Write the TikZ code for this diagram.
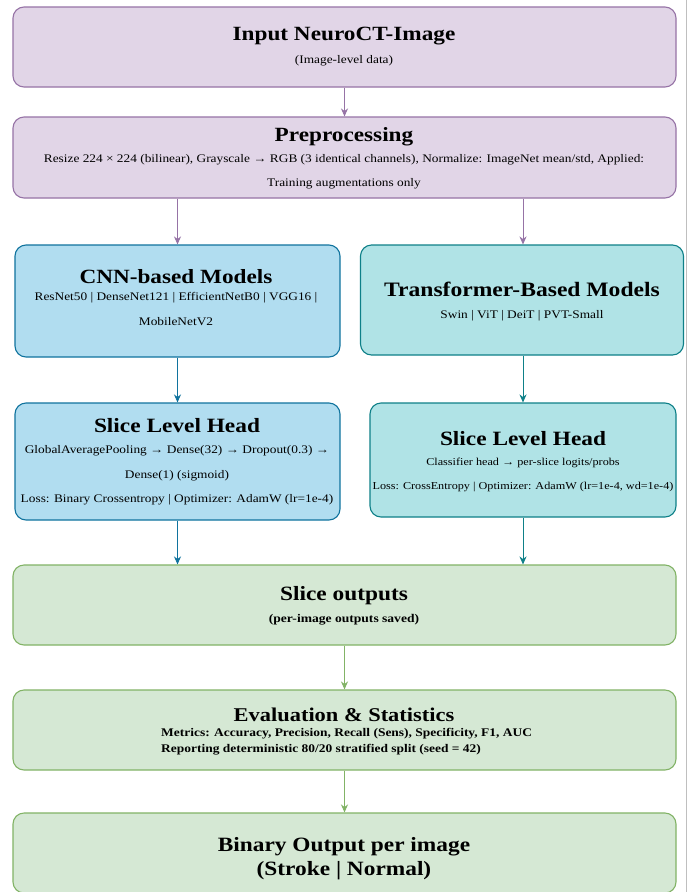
\documentclass[tikz,border=0pt]{standalone}
\usepackage{fontspec}
\setmainfont[FakeStretch=1.15]{Liberation Serif}
\usetikzlibrary{arrows.meta}
\definecolor{pfill}{HTML}{E1D5E7}\definecolor{pline}{HTML}{9673A6}
\definecolor{bfill}{HTML}{B1DDF0}\definecolor{bline}{HTML}{10739E}
\definecolor{tfill}{HTML}{B0E3E6}\definecolor{tline}{HTML}{0E8088}
\definecolor{gfill}{HTML}{D5E8D4}\definecolor{gline}{HTML}{82B366}
\tikzset{
  box/.style={draw, line width=1.1pt, rounded corners=11pt, inner sep=0pt},
  pbox/.style={box, fill=pfill, draw=pline},
  bbox/.style={box, fill=bfill, draw=bline},
  tbox/.style={box, fill=tfill, draw=tline},
  gbox/.style={box, fill=gfill, draw=gline},
  ttl/.style={font=\bfseries\fontsize{20.2}{24}\selectfont, inner sep=0pt},
  sttl/.style={font=\bfseries\fontsize{20.3}{24}\selectfont, inner sep=0pt},
  txt/.style={font=\fontsize{11.6}{13}\selectfont, inner sep=0pt},
  stxt/.style={font=\fontsize{10.6}{12}\selectfont, inner sep=0pt},
  btxt/.style={font=\bfseries\fontsize{11.8}{13}\selectfont, inner sep=0pt},
  etxt/.style={font=\bfseries\fontsize{11.7}{14}\selectfont, inner sep=0pt, anchor=west},
  conn/.style={-{Stealth[length=8pt,width=7pt]}, line width=0.9pt},
}
\begin{document}
\begin{tikzpicture}[x=1pt,y=-1pt]
\useasboundingbox (0,0) rectangle (690,892);
\fill[white] (0,0) rectangle (690,892);
\draw[gray!50, line width=0.6pt] (686,0) -- (686,892);
% boxes
\node[pbox, minimum width=663pt, minimum height=80pt] (inp) at (344.5,47) {};
\node[pbox, minimum width=663pt, minimum height=81pt] (pre) at (344.5,157.5) {};
\node[bbox, minimum width=325pt, minimum height=112pt] (cnn) at (177.5,301) {};
\node[tbox, minimum width=323pt, minimum height=110pt] (trf) at (522,300) {};
\node[bbox, minimum width=325pt, minimum height=117pt] (ch) at (177.5,461.5) {};
\node[tbox, minimum width=306pt, minimum height=114pt] (th) at (523,460) {};
\node[gbox, minimum width=663pt, minimum height=80pt] (so) at (344.5,605) {};
\node[gbox, minimum width=663pt, minimum height=80pt] (ev) at (344.5,730) {};
\node[gbox, minimum width=663pt, minimum height=80pt] (bo) at (344.5,853) {};
% texts
\node[ttl] (t1) at (344,36.5) {Input NeuroCT-Image};
\node[txt] (s1) at (344,61) {(Image-level data)};
\node[ttl] (t2) at (344,136.5) {Preprocessing};
\node[txt] (s2a) at (344,160) {Resize 224 × 224 (bilinear), Grayscale → RGB (3 identical channels), Normalize: ImageNet mean/std, Applied:};
\node[txt] (s2b) at (344,184) {Training augmentations only};
\node[ttl] (t3) at (176,277) {CNN-based Models};
\node[txt] (s3a) at (176,298) {ResNet50 | DenseNet121 | EfficientNetB0 | VGG16 |};
\node[txt] (s3b) at (176,322) {MobileNetV2};
\node[ttl, font=\bfseries\fontsize{20.5}{24}\selectfont] (t4) at (522,289.5) {Transformer-Based Models};
\node[txt] (s4) at (522,316) {Swin | ViT | DeiT | PVT-Small};
\node[sttl] (t5) at (177,426) {Slice Level Head};
\node[txt] (s5a) at (177,451) {GlobalAveragePooling → Dense(32) → Dropout(0.3) →};
\node[txt] (s5b) at (177,476) {Dense(1) (sigmoid)};
\node[txt] (s5c) at (177,500) {Loss: Binary Crossentropy | Optimizer: AdamW (lr=1e-4)};
\node[sttl] (t6) at (523,438.5) {Slice Level Head};
\node[stxt] (s6a) at (523,463) {Classifier head → per-slice logits/probs};
\node[stxt] (s6b) at (523,487) {Loss: CrossEntropy | Optimizer: AdamW (lr=1e-4, wd=1e-4)};
\node[sttl] (t7) at (344,595.5) {Slice outputs};
\node[btxt] (s7) at (344,620) {(per-image outputs saved)};
\node[sttl, font=\bfseries\fontsize{19.5}{24}\selectfont] (t8) at (344,715) {Evaluation \& Statistics};
\node[etxt] (s8a) at (161,733.5) {Metrics: Accuracy, Precision, Recall (Sens), Specificity, F1, AUC};
\node[etxt] (s8b) at (161,749.5) {Reporting deterministic 80/20 stratified split (seed = 42)};
\node[sttl] (t9) at (344,846.5) {Binary Output per image};
\node[sttl] (t9b) at (344,871) {(Stroke | Normal)};
% connectors
\draw[conn, draw=pline] (inp.south) -- (pre.north);
\draw[conn, draw=pline] (pre.south -| cnn.north) -- (cnn.north);
\draw[conn, draw=pline] (pre.south -| th.north) -- (trf.north -| th.north);
\draw[conn, draw=bline] (cnn.south) -- (ch.north);
\draw[conn, draw=tline] (trf.south -| th.north) -- (th.north);
\draw[conn, draw=bline] (ch.south) -- (so.north -| ch.south);
\draw[conn, draw=tline] (th.south) -- (so.north -| th.south);
\draw[conn, draw=gline] (so.south) -- (ev.north);
\draw[conn, draw=gline] (ev.south) -- (bo.north);
\end{tikzpicture}
\end{document}
